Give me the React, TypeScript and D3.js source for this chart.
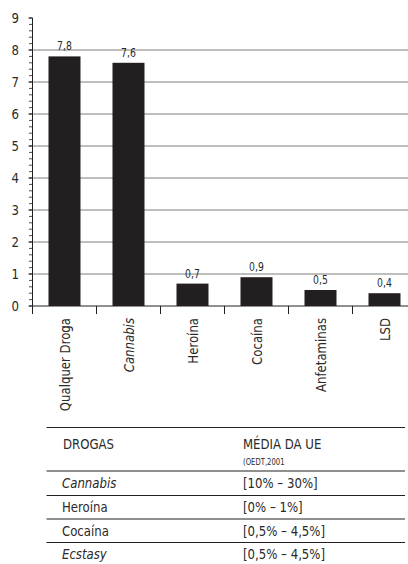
import React from "react";
import * as d3 from "d3";

// Bar chart data: prevalence by drug
const categories = ["Qualquer Droga", "Cannabis", "Heroína", "Cocaína", "Anfetaminas", "LSD"];
const values = [7.8, 7.6, 0.7, 0.9, 0.5, 0.4];
const italicCategories = ["Cannabis"];
const yTicks = [0, 1, 2, 3, 4, 5, 6, 7, 8, 9];

// Reference table below the chart
const tableHeader = ["DROGAS", "MÉDIA DA UE"];
const tableSubHeader = "(OEDT,2001";
const tableDrugs = ["Cannabis", "Heroína", "Cocaína", "Ecstasy"];
const tableRanges = ["[10% – 30%]", "[0% – 1%]", "[0,5% – 4,5%]", "[0,5% – 4,5%]"];
const tableItalic = ["Cannabis", "Ecstasy"];

const W = 408;
const H = 564;
const FONT = "'Liberation Sans Narrow', 'DejaVu Sans Condensed', 'Arial Narrow', sans-serif";
const INK = "#231f20";
const TEXT = "#2a2a2a";
const GRID = "#7c7c7c";
// horizontal squeeze that gives the condensed look of the typeface
const SQUEEZE = 0.9;

type TProps = {
  x: number;
  y: number;
  size: number;
  anchor?: "start" | "middle" | "end";
  italic?: boolean;
  rotate?: number;
  dy?: string;
  children: React.ReactNode;
};

function T({ x, y, size, anchor = "start", italic = false, rotate = 0, dy, children }: TProps) {
  return (
    <text
      transform={`translate(${x},${y}) rotate(${rotate}) scale(${SQUEEZE},1)`}
      textAnchor={anchor}
      dy={dy}
      fontSize={size}
      fontStyle={italic ? "italic" : "normal"}
      fill={TEXT}
    >
      {children}
    </text>
  );
}

export default function App() {
  const x0 = 32.5;
  const band = 64;
  const x = d3
    .scaleBand<string>()
    .domain(categories)
    .range([x0, x0 + band * categories.length])
    .paddingInner(0.5)
    .paddingOuter(0.25);
  const y = d3.scaleLinear().domain([0, 9]).range([306, 18]);
  const minorTicks = d3.range(0, 9.0001, 0.2).map((v) => +v.toFixed(1));

  const boundaries = categories.map((_, i) => x0 + band * (i + 1));

  // table layout
  const tLeft = 46.5;
  const tRight = 405;
  const col1 = 63;
  const col2 = 243;
  const ruleYs = [427.5, 471, 495.5, 519, 542.5];
  const rowBaselines = [487.5, 512, 535.5, 558.5];

  return (
    <svg
      width={W}
      height={H}
      viewBox={`0 0 ${W} ${H}`}
      style={{ position: "absolute", left: 0, top: 0, background: "#fff" }}
      fontFamily={FONT}
    >
      <rect width={W} height={H} fill="#fff" />

      {/* horizontal gridlines */}
      {yTicks
        .filter((t) => t > 0 && t < 9)
        .map((t) => (
          <line key={`g${t}`} x1={x0} x2={W} y1={y(t)} y2={y(t)} stroke={GRID} strokeWidth={1} />
        ))}

      {/* bars */}
      {categories.map((c, i) => (
        <rect
          key={c}
          x={x(c)!}
          y={y(values[i])}
          width={x.bandwidth()}
          height={y(0) - y(values[i])}
          fill={INK}
        />
      ))}

      {/* value labels */}
      {categories.map((c, i) => (
        <T key={`v${c}`} x={x(c)! + x.bandwidth() / 2} y={y(values[i]) - 6} size={11.5} anchor="middle">
          {values[i].toFixed(1).replace(".", ",")}
        </T>
      ))}

      {/* x axis baseline and category boundary ticks */}
      <line x1={x0} x2={W} y1={y(0)} y2={y(0)} stroke={INK} strokeWidth={1} />
      {boundaries.map((bx, i) => (
        <line key={`xt${i}`} x1={bx} x2={bx} y1={y(0)} y2={y(0) + 8} stroke={INK} strokeWidth={1} />
      ))}

      {/* y axis */}
      <line x1={x0} x2={x0} y1={y(9)} y2={y(0) + 8} stroke={INK} strokeWidth={1} />
      {minorTicks.map((t) => (
        <line key={`mt${t}`} x1={x0 - 3.5} x2={x0} y1={y(t)} y2={y(t)} stroke={INK} strokeWidth={0.8} />
      ))}
      {yTicks.map((t) => (
        <g key={`yt${t}`}>
          <line x1={x0 - 4} x2={x0} y1={y(t)} y2={y(t)} stroke={INK} strokeWidth={1} />
          <T x={19} y={y(t)} size={14.5} anchor="end" dy="0.36em">
            {t}
          </T>
        </g>
      ))}

      {/* category labels */}
      {categories.map((c) => (
        <T
          key={`c${c}`}
          x={x(c)! + x.bandwidth() / 2}
          y={318}
          rotate={-90}
          size={14.5}
          anchor="end"
          dy="0.36em"
          italic={italicCategories.includes(c)}
        >
          {c}
        </T>
      ))}

      {/* table */}
      {ruleYs.map((ry, i) => (
        <line key={`r${i}`} x1={tLeft} x2={tRight} y1={ry} y2={ry} stroke={INK} strokeWidth={1} />
      ))}
      <T x={col1} y={448.5} size={14.5}>
        {tableHeader[0]}
      </T>
      <T x={col2} y={448.5} size={14.5}>
        {tableHeader[1]}
      </T>
      <T x={col2} y={465} size={8.5}>
        {tableSubHeader}
      </T>
      {tableDrugs.map((d, i) => (
        <g key={`row${d}`}>
          <T x={col1 - 1} y={rowBaselines[i]} size={14.5} italic={tableItalic.includes(d)}>
            {d}
          </T>
          <T x={col2} y={rowBaselines[i]} size={14.5}>
            {tableRanges[i]}
          </T>
        </g>
      ))}
    </svg>
  );
}
